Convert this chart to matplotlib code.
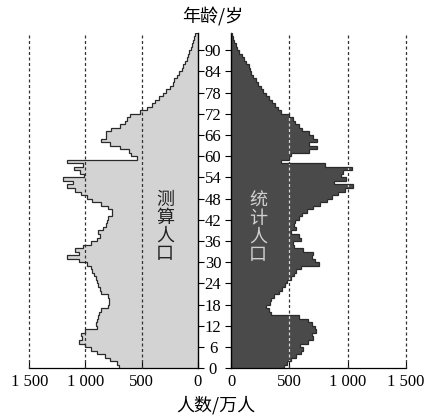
import numpy as np
import matplotlib
matplotlib.use('Agg')
import matplotlib.pyplot as plt

# ---------------- data ----------------
ages = np.arange(0, 95)
estimated = [700, 720, 780, 830, 900, 950, 1000, 1060, 1030, 1040,
             1000, 900, 910, 900, 890, 880, 860, 800, 790, 790,
             800, 860, 870, 890, 900, 910, 920, 940, 950, 990,
             1060, 1160, 1060, 1090, 1020, 950, 900, 870, 890, 840,
             820, 810, 800, 760, 760, 800, 860, 940, 990, 1040,
             1090, 1160, 1110, 1200, 1010, 1050, 1100, 1020, 1160, 545,
             590, 610, 690, 780, 860, 820, 820, 770, 690, 650,
             630, 600, 514, 454, 409, 380, 342, 306, 285, 246,
             222, 211, 187, 166, 142, 128, 113, 98, 84, 75,
             62, 50, 41, 32, 20]
statistical = [450, 480, 510, 560, 600, 620, 590, 660, 700, 690,
               730, 720, 690, 660, 580, 340, 320, 300, 330, 345,
               370, 410, 440, 460, 480, 510, 540, 560, 600, 750,
               720, 690, 700, 620, 540, 530, 600, 580, 510, 560,
               540, 550, 580, 610, 650, 700, 760, 820, 870, 920,
               980, 1050, 880, 990, 940, 960, 1040, 810, 430, 500,
               510, 670, 740, 670, 735, 700, 670, 610, 580, 550,
               530, 500, 431, 405, 380, 352, 325, 300, 273, 252,
               232, 212, 190, 172, 160, 150, 128, 108, 90, 70,
               52, 38, 26, 15, 6]
age_ticks = list(range(0, 91, 6))
x_ticks = [0, 500, 1000, 1500]
x_tick_labels = ['0', '500', '1 000', '1 500']
grid_values = [500, 1000, 1500]
title_text = '年龄/岁'
xlabel_text = '人数/万人'
left_label = '测算人口'
right_label = '统计人口'

# ---------------- layout ----------------
W, H = 438, 418
fig = plt.figure(figsize=(W / 100, H / 100), dpi=100)
y0, y1 = 368.3, 32.5
ax_l = fig.add_axes([29.3 / W, (H - y0) / H, (197.7 - 29.3) / W, (y0 - y1) / H])
ax_r = fig.add_axes([231.3 / W, (H - y0) / H, (405.7 - 231.3) / W, (y0 - y1) / H])

num_font = 'Liberation Serif'
cjk = ['Noto Sans CJK SC', 'DejaVu Sans']
edge_col = '#2a2a2a'


def step_coords(vals):
    vals = np.asarray(vals, dtype=float)
    edges = np.arange(len(vals) + 1)
    ys = np.repeat(edges, 2)[1:-1]
    xs = np.repeat(vals, 2)
    ys = np.append(ys, ys[-1])
    xs = np.append(xs, 0.0)
    return xs, ys


for ax, vals, fc in [(ax_l, estimated, '#d3d3d3'), (ax_r, statistical, '#4a4a4a')]:
    xs, ys = step_coords(vals)
    poly = ax.fill_betweenx(ys, 0, xs, facecolor=fc, edgecolor='none', zorder=1)
    ax.plot(xs, ys, color=edge_col, lw=0.9, zorder=4, solid_joinstyle='miter')
    for g in grid_values:
        ax.axvline(g, color='#333333', lw=0.9, ls=(0, (2.4, 2.0)), zorder=3, clip_on=False)
    if ax is ax_r:
        for g in grid_values:
            ln = ax.axvline(g, color='#d8d8d8', lw=0.9, ls=(0, (2.4, 2.0)), zorder=3.5)
            ln.set_clip_path(poly.get_paths()[0], ax.transData)
    ax.set_ylim(0, 95)
    ax.spines['top'].set_visible(False)
    ax.spines['bottom'].set_linewidth(0.9)
    ax.set_xticks(x_ticks)
    ax.set_xticklabels(x_tick_labels, fontfamily=num_font, fontsize=12)
    ax.tick_params(axis='x', direction='in', length=4, width=0.8, pad=4)
    ax.set_yticks(age_ticks)

ax_l.set_xlim(1500, 0)
ax_r.set_xlim(0, 1500)

ax_l.spines['left'].set_visible(False)
ax_l.spines['right'].set_linewidth(1.0)
ax_l.yaxis.tick_right()
ax_l.tick_params(axis='y', direction='out', length=4, width=0.8, labelright=False)

ax_r.spines['right'].set_visible(False)
ax_r.spines['left'].set_linewidth(1.0)
ax_r.set_yticklabels([str(a) for a in age_ticks], fontfamily=num_font, fontsize=12, ha='center')
ax_r.tick_params(axis='y', direction='out', length=4, width=0.8, pad=9.2)

fig.text(213 / W, 1 - 17 / H, title_text, fontfamily=cjk, fontsize=13, ha='center', va='center')
fig.text(216 / W, 1 - 405 / H, xlabel_text, fontfamily=cjk, fontsize=13, ha='center', va='center')

fig.text(165 / W, 1 - 227 / H, '\n'.join(left_label), fontfamily=cjk, fontsize=13,
         ha='center', va='center', linespacing=1.0, color='#222222', zorder=6)
fig.text(258 / W, 1 - 228 / H, '\n'.join(right_label), fontfamily=cjk, fontsize=13,
         ha='center', va='center', linespacing=1.0, color='#d0d0d0', zorder=6)

fig.savefig('out.png', dpi=100)
